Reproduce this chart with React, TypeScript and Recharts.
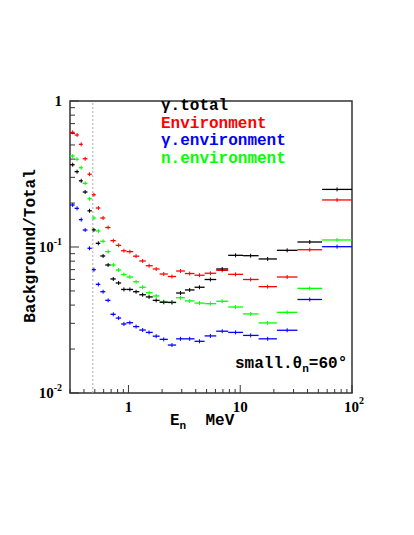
import React from 'react';
import { ScatterChart, Scatter, XAxis, YAxis, ErrorBar, ReferenceLine, ReferenceArea } from 'recharts';

// Energy bins (MeV)
const binLow = [0.30, 0.33, 0.36, 0.39, 0.43, 0.47, 0.51, 0.56, 0.62, 0.69, 0.77, 0.86, 0.96, 1.1, 1.25, 1.43, 1.65, 1.9, 2.25, 2.67, 3.2, 3.9, 4.8, 6.1, 7.8, 10.6, 14.6, 21.3, 32.5, 54];
const binHigh = [0.33, 0.36, 0.39, 0.43, 0.47, 0.51, 0.56, 0.62, 0.69, 0.77, 0.86, 0.96, 1.1, 1.25, 1.43, 1.65, 1.9, 2.25, 2.67, 3.2, 3.9, 4.8, 6.1, 7.8, 10.6, 14.6, 21.3, 32.5, 54, 100];
const binCenter = [0.317, 0.347, 0.378, 0.41, 0.448, 0.491, 0.538, 0.593, 0.658, 0.732, 0.817, 0.911, 1.03, 1.17, 1.34, 1.53, 1.77, 2.07, 2.45, 2.92, 3.53, 4.32, 5.41, 6.9, 9.09, 12.4, 17.6, 26.3, 41.9, 73.5];

// Series values (Background/Total)
const gammaTotal = [0.366, 0.328, 0.284, 0.238, 0.177, 0.131, 0.106, 0.0868, 0.0753, 0.0604, 0.0567, 0.0512, 0.0512, 0.0494, 0.0471, 0.0455, 0.0431, 0.0418, 0.0417, 0.0484, 0.0508, 0.053, 0.0599, 0.0707, 0.0877, 0.0872, 0.0828, 0.0949, 0.1082, 0.248];
const environment = [0.61, 0.585, 0.505, 0.402, 0.315, 0.228, 0.185, 0.158, 0.136, 0.1105, 0.1027, 0.0943, 0.0929, 0.0865, 0.0802, 0.0744, 0.0707, 0.0653, 0.0628, 0.0685, 0.0658, 0.0641, 0.0661, 0.0692, 0.065, 0.0599, 0.0535, 0.0623, 0.0958, 0.21];
const gammaEnv = [0.194, 0.184, 0.154, 0.1307, 0.098, 0.0699, 0.0555, 0.0494, 0.0431, 0.0346, 0.0326, 0.0297, 0.0303, 0.0285, 0.027, 0.026, 0.0245, 0.0233, 0.0213, 0.0235, 0.0235, 0.0226, 0.0246, 0.0265, 0.026, 0.0248, 0.0235, 0.0269, 0.0437, 0.1005];
const nEnv = [0.42, 0.399, 0.349, 0.273, 0.214, 0.158, 0.1287, 0.1094, 0.0929, 0.0753, 0.0696, 0.0648, 0.0623, 0.0578, 0.053, 0.0486, 0.0462, 0.0423, 0.0418, 0.0449, 0.0427, 0.0413, 0.0409, 0.0425, 0.0388, 0.0348, 0.0302, 0.0357, 0.0521, 0.1117];

const xTicks = [0.3, 0.4, 0.5, 0.6, 0.7, 0.8, 0.9, 1, 2, 3, 4, 5, 6, 7, 8, 9, 10, 20, 30, 40, 50, 60, 70, 80, 90, 100];
const yTicks = [0.01, 0.02, 0.03, 0.04, 0.05, 0.06, 0.07, 0.08, 0.09, 0.1, 0.2, 0.3, 0.4, 0.5, 0.6, 0.7, 0.8, 0.9, 1];
const cutLine = 0.48;

const legendItems = [
  { label: 'γ.total', color: '#000000' },
  { label: 'Environment', color: '#ff0000' },
  { label: 'γ.environment', color: '#0000ff' },
  { label: 'n.environment', color: '#00ff00' },
];

const W = 414;
const H = 535;
const MONO = '"Liberation Mono", "DejaVu Sans Mono", monospace';
const SERIF = '"Liberation Serif", "DejaVu Serif", serif';

function makeSeries(values: number[]) {
  return binCenter.map((c, i) => ({ x: c, y: values[i], ex: [c - binLow[i], binHigh[i] - c] }));
}

const isMajor = (v: number, list: number[]) => list.some((m) => Math.abs(v - m) < 1e-9);

const YTick = (props: any) => {
  const { x, y, payload } = props;
  const v = payload.value;
  const major = isMajor(v, [1, 0.1, 0.01]);
  let label: React.ReactNode = null;
  if (major) {
    if (v === 1) {
      label = (
        <text x={x - 8} y={y + 5} textAnchor="end" fontFamily={SERIF} fontWeight="bold" fontSize={15} fill="#000">1</text>
      );
    } else {
      const exp = v === 0.1 ? '-1' : '-2';
      label = (
        <text x={x - 8} y={y + 5} textAnchor="end" fontFamily={SERIF} fontWeight="bold" fontSize={15} fill="#000">
          <tspan>10</tspan>
          <tspan dy={-7} fontSize={10}>{exp}</tspan>
        </text>
      );
    }
  }
  return (
    <g>
      <line x1={x} x2={x + (major ? 9 : 5)} y1={y} y2={y} stroke="#333" strokeWidth={1} />
      {label}
    </g>
  );
};

const XTick = (props: any) => {
  const { x, y, payload } = props;
  const v = payload.value;
  const major = isMajor(v, [1, 10, 100]);
  let label: React.ReactNode = null;
  if (v === 1 || v === 10) {
    label = (
      <text x={x} y={y + 19} textAnchor="middle" fontFamily={SERIF} fontWeight="bold" fontSize={15} fill="#000">{String(v)}</text>
    );
  } else if (v === 100) {
    label = (
      <text x={x - 8} y={y + 19} textAnchor="start" fontFamily={SERIF} fontWeight="bold" fontSize={15} fill="#000">
        <tspan>10</tspan>
        <tspan dy={-8} fontSize={10}>2</tspan>
      </text>
    );
  }
  return (
    <g>
      <line x1={x} x2={x} y1={y} y2={y - (major ? 8 : 4)} stroke="#333" strokeWidth={1} />
      {label}
    </g>
  );
};

const barShape = (color: string) => (props: any) => {
  const { cx, cy } = props;
  if (cx == null || cy == null) return <g />;
  return <line x1={cx} x2={cx} y1={cy - 2} y2={cy + 2} stroke={color} strokeWidth={1} />;
};

const seriesDefs = [
  { name: 'Environment', values: environment, color: '#ff0000' },
  { name: 'γ.environment', values: gammaEnv, color: '#0000ff' },
  { name: 'n.environment', values: nEnv, color: '#00ff00' },
  { name: 'γ.total', values: gammaTotal, color: '#000000' },
];

export default function App() {
  return (
    <div style={{ position: 'absolute', left: 0, top: 0, width: W, height: H, background: '#fff' }}>
      <ScatterChart width={W} height={H} margin={{ top: 101, right: 62, bottom: 0, left: 0 }}>
        <XAxis
          type="number"
          dataKey="x"
          scale="log"
          domain={[0.3, 100]}
          allowDataOverflow
          ticks={xTicks}
          interval={0}
          height={142}
          tickSize={0}
          tickMargin={0}
          tickLine={false}
          axisLine={false}
          tick={(p: any) => <XTick {...p} />}
        />
        <YAxis
          type="number"
          dataKey="y"
          scale="log"
          domain={[0.01, 1]}
          allowDataOverflow
          ticks={yTicks}
          interval={0}
          width={70}
          tickSize={0}
          tickMargin={0}
          tickLine={false}
          axisLine={false}
          tick={(p: any) => <YTick {...p} />}
        />
        <ReferenceLine x={cutLine} stroke="#aaaaaa" strokeDasharray="2 2" strokeWidth={1} />
        {seriesDefs.map((s) => (
          <Scatter
            key={s.name}
            name={s.name}
            data={makeSeries(s.values)}
            isAnimationActive={false}
            shape={barShape(s.color)}
          >
            <ErrorBar dataKey="ex" direction="x" width={0} stroke={s.color} strokeWidth={1.3} isAnimationActive={false} />
          </Scatter>
        ))}
        <ReferenceArea x1={0.3} x2={100} y1={0.01} y2={1} fill="none" stroke="#333" strokeWidth={1.5} ifOverflow="visible" />
      </ScatterChart>
      <svg width={W} height={H} style={{ position: 'absolute', left: 0, top: 0, pointerEvents: 'none' }}>
        {legendItems.map((it, i) => (
          <text key={it.label} x={161} y={110 + i * 17.7} fontFamily={MONO} fontWeight="bold" fontSize={16} fill={it.color}>
            {it.label}
          </text>
        ))}
        <text x={235} y={368} fontFamily={MONO} fontWeight="bold" fontSize={16} fill="#000">
          <tspan>small.θ</tspan>
          <tspan dy={4} fontSize={11}>n</tspan>
          <tspan dy={-4}>=60°</tspan>
        </text>
        <text x={170} y={425} fontFamily={MONO} fontWeight="bold" fontSize={16} fill="#000">
          <tspan>E</tspan>
          <tspan dy={4} fontSize={11}>n</tspan>
          <tspan dy={-4}>{'\u00a0\u00a0MeV'}</tspan>
        </text>
        <text
          x={35}
          y={246}
          transform="rotate(-90, 35, 246)"
          textAnchor="middle"
          fontFamily={MONO}
          fontWeight="bold"
          fontSize={16}
          fill="#000"
        >
          Background/Total
        </text>
      </svg>
    </div>
  );
}
